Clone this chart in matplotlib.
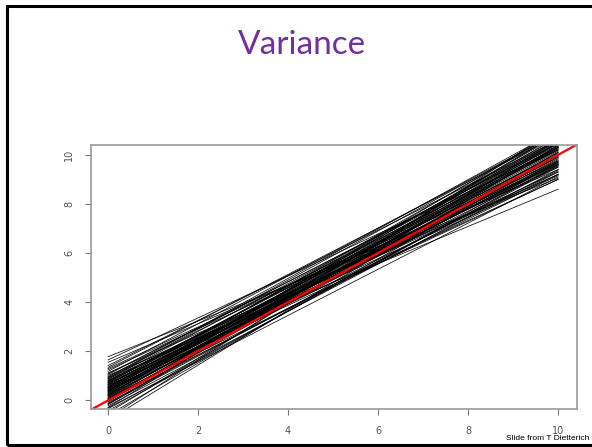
import matplotlib
matplotlib.use("Agg")
import matplotlib.pyplot as plt
from matplotlib.patches import Rectangle

# fitted lines: value at x=0 and value at x=10
x_span = [0, 10]
left_vals = [1.78, 1.55, 1.42, 1.25, 1.18, 1.12, 1.06, 1.02, 0.97, 0.93, 0.9, 0.86,
             0.83, 0.8, 0.77, 0.74, 0.71, 0.68, 0.66, 0.63, 0.61, 0.58, 0.55, 0.53,
             0.5, 0.48, 0.45, 0.43, 0.4, 0.38, 0.35, 0.33, 0.3, 0.27, 0.25, 0.22,
             0.2, 0.17, 0.14, 0.12, 0.09, 0.06, 0.03, 0.0, -0.04, -0.08, -0.12, -0.17,
             -0.22, -0.28, -0.34, -0.42, -0.5, -0.6, -0.72, -0.8,
             1.08, 0.95, 0.72, 0.64, 0.52, 0.41, 0.31, 0.18, 0.07, -0.02, -0.14, 0.88,
             0.56, 0.36, 0.24, 1.3, 0.79, 0.47, 1.65, 1.35, -0.3]
right_vals = [9.05, 9.4, 10.6, 9.6, 10.9, 9.2, 10.5, 8.6, 10.3, 9.5, 10.9, 10.6,
              9.3, 10.0, 9.7, 10.4, 9.15, 10.2, 9.8, 10.7, 9.0, 10.05, 9.6, 10.9,
              9.75, 10.3, 9.0, 10.5, 9.9, 10.15, 9.55, 10.8, 9.35, 10.0, 10.45, 9.7,
              11.0, 9.85, 10.25, 9.2, 10.6, 9.95, 10.35, 9.3, 10.75, 9.5, 10.1, 10.5,
              9.4, 10.9, 9.6, 9.7, 10.6, 10.0, 11.1, 10.4,
              10.45, 11.0, 10.55, 9.65, 10.2, 9.9, 10.65, 10.1, 9.75, 10.3, 9.55, 9.2,
              10.35, 9.65, 10.85, 9.75, 10.25, 9.95, 10.2, 10.8, 9.1]

x_ticks = [0, 2, 4, 6, 8, 10]
y_ticks = [0, 2, 4, 6, 8, 10]

fig = plt.figure(figsize=(5.92, 4.47), dpi=100)

# slide frame
fig.add_artist(Rectangle((7 / 592, 2 / 447), 1.0, 439 / 447, transform=fig.transFigure,
                         fill=False, edgecolor="black", linewidth=2.2))

fig.text(0.51, 0.899, "Variance", color="#7030A0", fontsize=24, family="Lato",
         ha="center", va="center")

ax = fig.add_axes([91 / 592, 1 - 409 / 447, (577 - 91) / 592, (409 - 145) / 447])
for l, r in zip(left_vals, right_vals):
    ax.plot(x_span, [l, r], color="black", linewidth=0.6, alpha=0.9)
ax.axline((0, 0), slope=1, color="red", linewidth=1.6)

ax.set_xlim(-0.38, 10.42)
ax.set_ylim(-0.35, 10.4)
ax.set_xticks(x_ticks)
ax.set_yticks(y_ticks)
ax.set_xticklabels([str(t) for t in x_ticks])
ax.set_yticklabels([str(t) for t in y_ticks], rotation=90, va="center")
ax.tick_params(colors="#777777", labelcolor="#555555", labelsize=7, length=4,
               width=0.8, pad=8)
for s in ax.spines.values():
    s.set_color("#9a9a9a")
    s.set_linewidth(1.2)

fig.text(0.995, 0.02, "Slide from T Dietterich", fontsize=6, family="Liberation Sans",
         ha="right", va="center", color="black")

fig.savefig("out.png", dpi=100)
